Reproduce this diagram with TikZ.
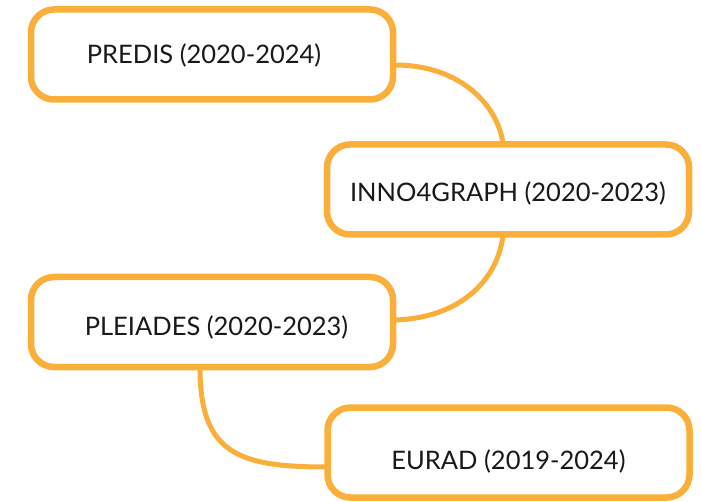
\documentclass[tikz,border=0pt]{standalone}
\usepackage{fontspec}
\setmainfont{Lato}
\definecolor{boxorange}{RGB}{249,175,58}
\begin{document}
\begin{tikzpicture}[x=1pt,y=-1pt,
  projbox/.style={draw=boxorange,line width=6.5pt,rounded corners=23pt,fill=white,
    minimum width=362pt,minimum height=90pt,inner sep=0pt,outer sep=0pt},
  projtext/.style={font=\fontsize{25.5}{30}\selectfont,text=black!90,inner sep=0pt},
  link/.style={draw=boxorange,line width=5pt}]
\useasboundingbox (0,0) rectangle (701,502);
\draw[link] (395,65) .. controls (460,65) and (498,105) .. (503,144);
\draw[link] (503,235) .. controls (498,280) and (460,318) .. (395,320);
\draw[link] (200,368) .. controls (200,455) and (240,467) .. (328,467);
\node[projbox,label={[projtext,xshift=-8pt,yshift=-1pt]center:PREDIS (2020-2024)}] (predis) at (212,54.5) {};
\node[projbox,label={[projtext,yshift=-4pt]center:INNO4GRAPH (2020-2023)}] (inno) at (508,189.5) {};
\node[projbox,label={[projtext,xshift=4.5pt,yshift=-5pt]center:PLEIADES (2020-2023)}] (pleiades) at (212,322) {};
\node[projbox,label={[projtext,yshift=-9pt]center:EURAD (2019-2024)}] (eurad) at (508.5,452.5) {};
\end{tikzpicture}
\end{document}
